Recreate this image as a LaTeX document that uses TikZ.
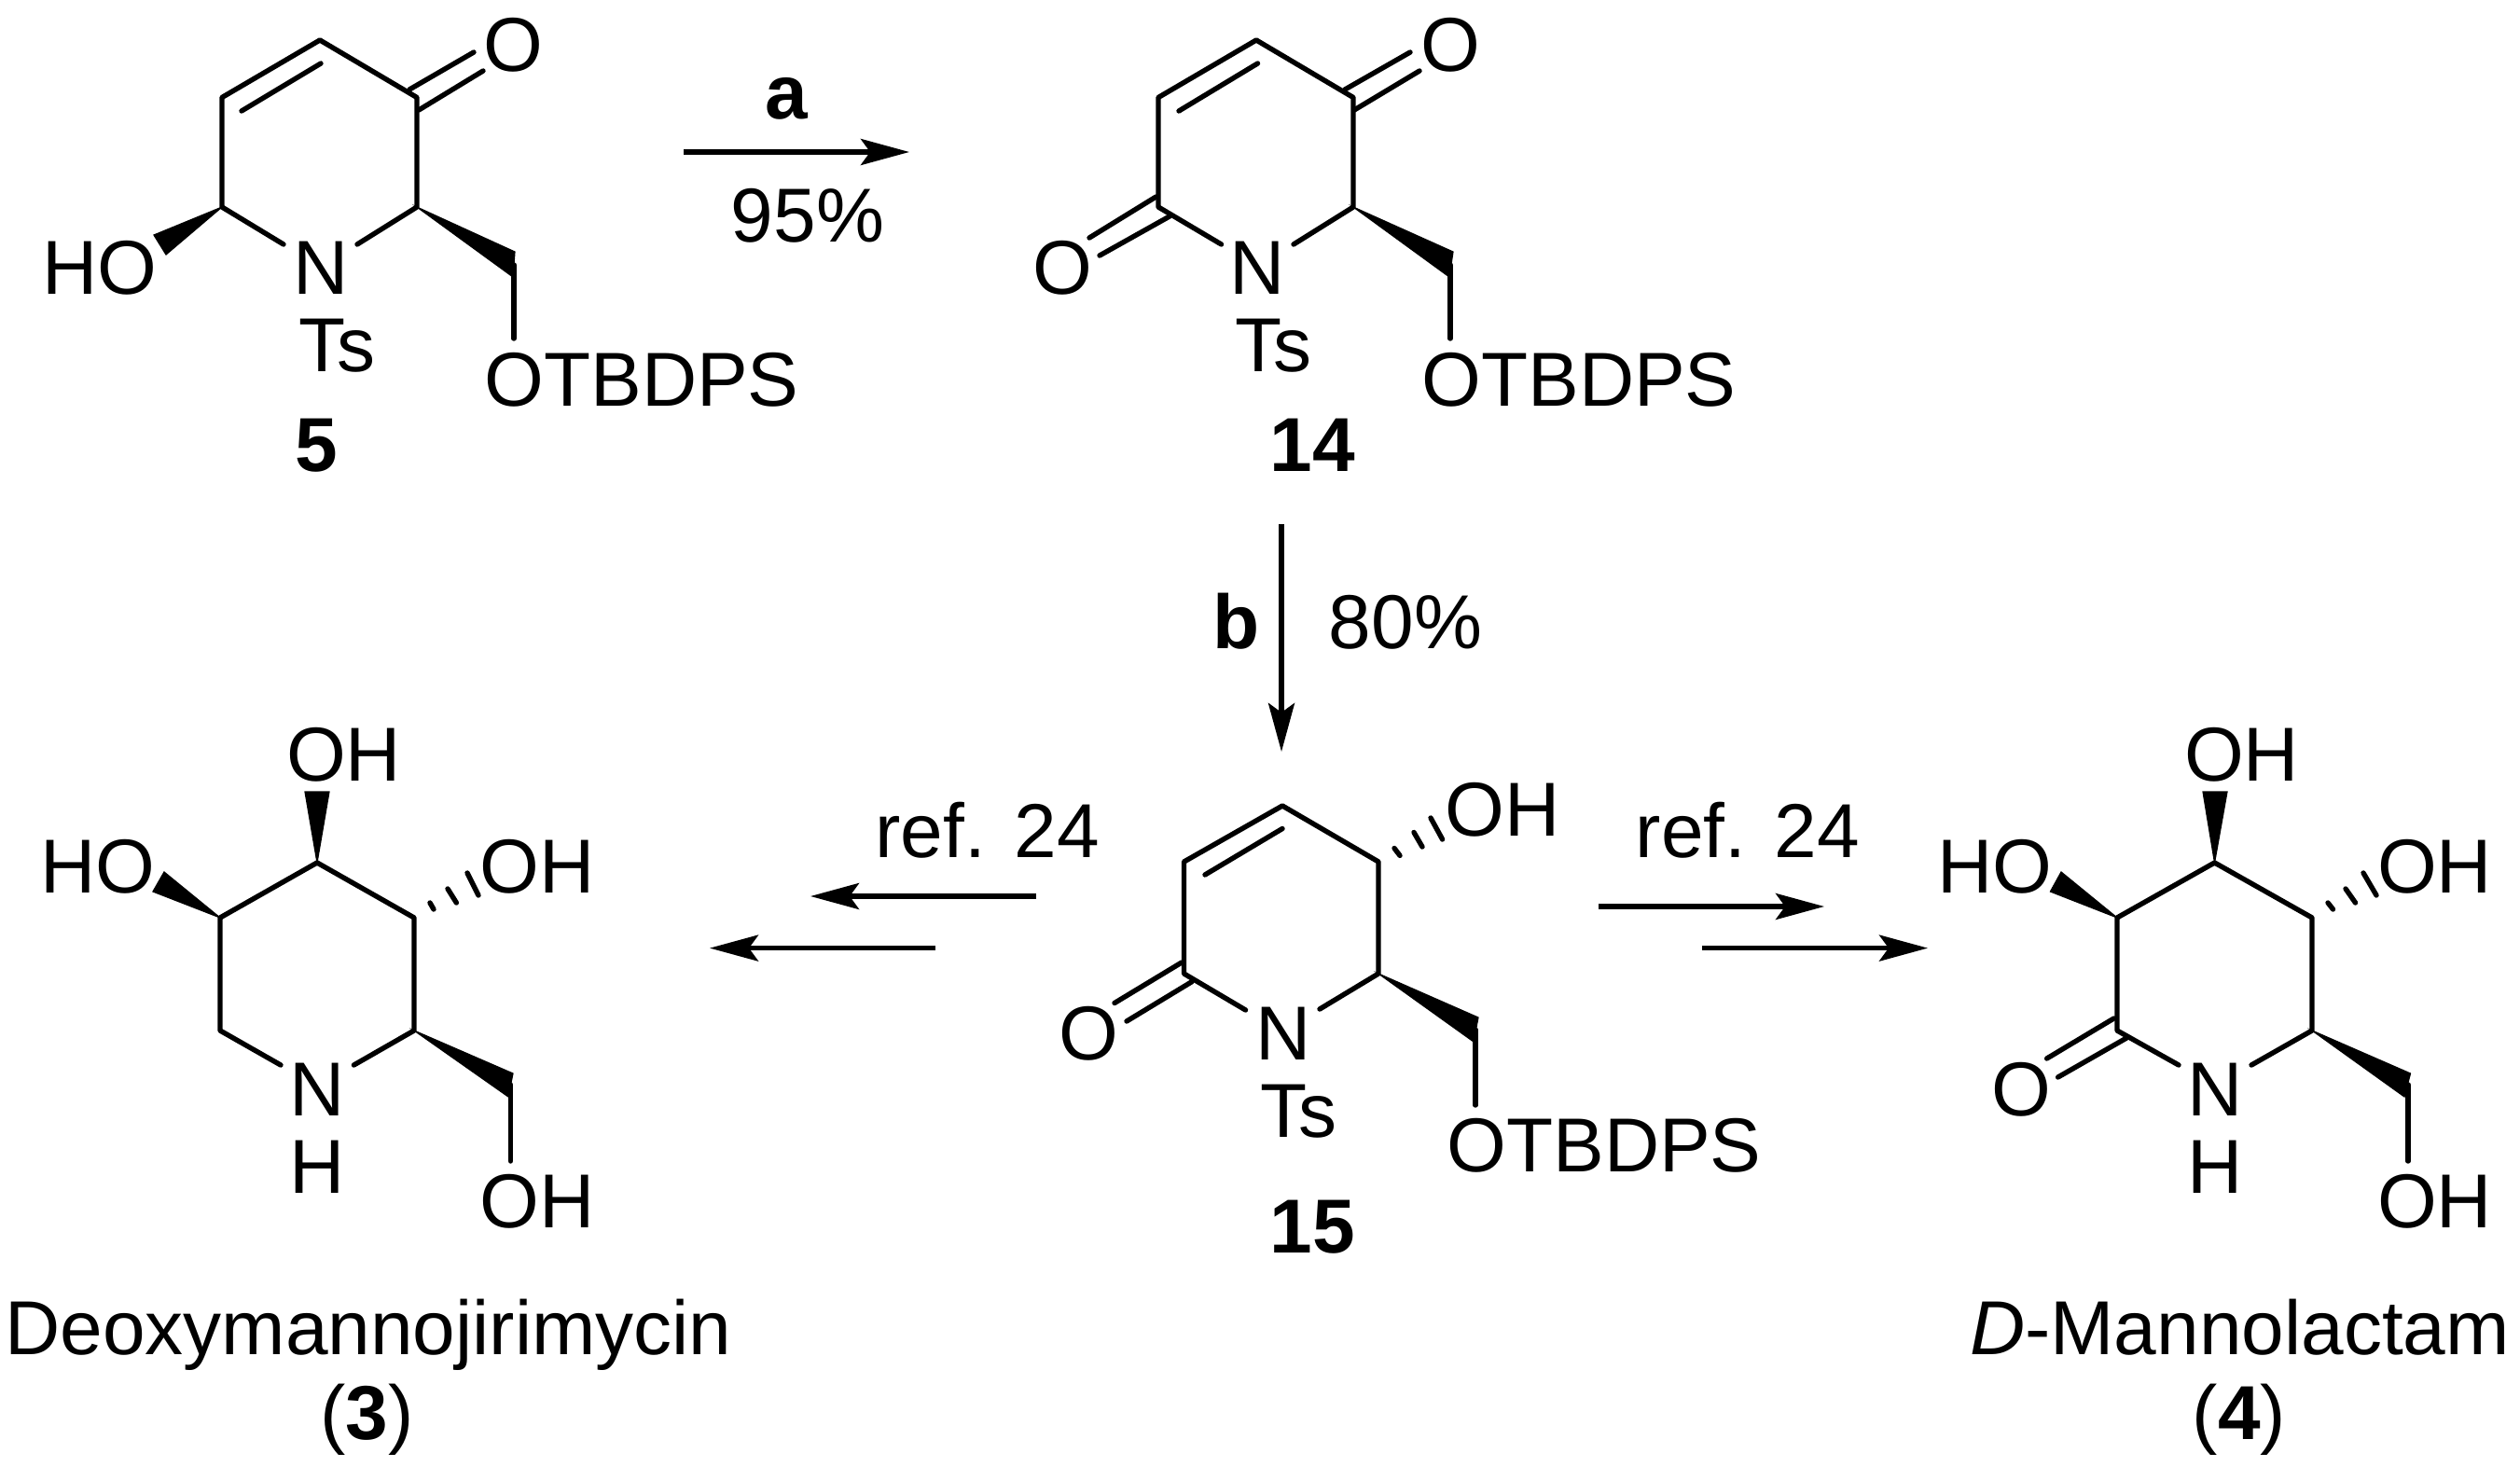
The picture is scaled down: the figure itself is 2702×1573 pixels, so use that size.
\documentclass[tikz,border=0pt]{standalone}
\usepackage{fontspec}
\setmainfont{Liberation Sans}
\usetikzlibrary{arrows.meta}
\tikzset{
  bond/.style={line width=2.7pt,line cap=round,line join=round},
  wedge/.style={fill=black,draw=black,line width=0.6pt,line join=miter},
  rxn/.style={line width=2.6pt,-{Stealth[length=26pt,width=14pt,inset=5pt]}},
  lab/.style={anchor=base,inner sep=0pt,font=\fontsize{41}{45}\selectfont},
  blab/.style={lab,font=\fontsize{41}{45}\selectfont\bfseries},
}
\begin{document}
\begin{tikzpicture}[x=0.5pt,y=-0.5pt]
\useasboundingbox (0,0) rectangle (2702,1573);
% ===== 5 =====
\coordinate (a1) at (343,43); \coordinate (a2) at (238,104.5); \coordinate (a3) at (238,222);
\coordinate (a4) at (447,222); \coordinate (a5) at (447,104.5);
\coordinate (a3n) at (304,262); \coordinate (a4n) at (383,262);
\coordinate (ai1) at (259,119); \coordinate (ai2) at (344,68);
\coordinate (ao1) at (439,96); \coordinate (ao2) at (508,56);
\coordinate (ao3) at (449,118); \coordinate (ao4) at (518,76);
\coordinate (aw1) at (165,252); \coordinate (aw2) at (178,273);
\coordinate (aw3) at (552,270); \coordinate (aw4) at (550,297);
\coordinate (ac) at (551,284); \coordinate (ae) at (551,363);
\draw[bond] (a3n) -- (a3) -- (a2) -- (a1) -- (a5) -- (a4) -- (a4n);
\draw[bond] (ai1) -- (ai2);
\draw[bond] (ao1) -- (ao2);
\draw[bond] (ao3) -- (ao4);
\draw[bond] (ac) -- (ae);
\fill[wedge] (a3) -- (aw1) -- (aw2) -- cycle;
\fill[wedge] (a4) -- (aw3) -- (aw4) -- cycle;
\node[lab] (aO) at (550,77) {O};
\node[lab] (aHO) at (107,315) {HO};
\node[lab] (aN) at (344,315) {N};
\node[lab] (aTs) at (361,398) {Ts};
\node[lab] (aOT) at (688,435) {OTBDPS};
\node[blab] (a5l) at (339,505) {5};
% ===== 14 =====
\coordinate (b1) at (1347,43); \coordinate (b2) at (1242,104.5); \coordinate (b3) at (1242,222);
\coordinate (b4) at (1451,222); \coordinate (b5) at (1451,104.5);
\coordinate (b3n) at (1309.5,262); \coordinate (b4n) at (1387,262);
\coordinate (bi1) at (1264,119); \coordinate (bi2) at (1348.5,68);
\coordinate (bo1) at (1442,96); \coordinate (bo2) at (1512,56);
\coordinate (bo3) at (1452,118); \coordinate (bo4) at (1522,76);
\coordinate (bp1) at (1239.5,211); \coordinate (bp2) at (1168,255);
\coordinate (bp3) at (1254,232); \coordinate (bp4) at (1179,274);
\coordinate (bw3) at (1558,270); \coordinate (bw4) at (1554,297);
\coordinate (bc) at (1555,284); \coordinate (be) at (1555,363);
\draw[bond] (b3n) -- (b3) -- (b2) -- (b1) -- (b5) -- (b4) -- (b4n);
\draw[bond] (bi1) -- (bi2);
\draw[bond] (bo1) -- (bo2);
\draw[bond] (bo3) -- (bo4);
\draw[bond] (bp1) -- (bp2);
\draw[bond] (bp3) -- (bp4);
\draw[bond] (bc) -- (be);
\fill[wedge] (b4) -- (bw3) -- (bw4) -- cycle;
\node[lab] (bO) at (1555,77) {O};
\node[lab] (bO2) at (1139,315) {O};
\node[lab] (bN) at (1348.5,315) {N};
\node[lab] (bTs) at (1365,398) {Ts};
\node[lab] (bOT) at (1693,435) {OTBDPS};
\node[blab] (b14) at (1407,505) {14};
% ===== 15 =====
\coordinate (c1) at (1375,864); \coordinate (c2) at (1269.5,924); \coordinate (c3) at (1269.5,1044);
\coordinate (c4) at (1478,1044); \coordinate (c5) at (1478,924);
\coordinate (c3n) at (1335.5,1083); \coordinate (c4n) at (1415,1082);
\coordinate (ci1) at (1292,938); \coordinate (ci2) at (1375,888.5);
\coordinate (cp1) at (1267,1032); \coordinate (cp2) at (1195,1075.5);
\coordinate (cp3) at (1278,1052.6); \coordinate (cp4) at (1208,1095);
\coordinate (cw3) at (1585,1091); \coordinate (cw4) at (1580,1117);
\coordinate (cc) at (1582,1104); \coordinate (ce) at (1582,1185);
\coordinate (ch1) at (1501,917.4); \coordinate (ch2) at (1495,909.5);
\coordinate (ch3) at (1525,908); \coordinate (ch4) at (1516,892.5);
\coordinate (ch5) at (1546.6,900); \coordinate (ch6) at (1534,877);
\draw[bond] (c3n) -- (c3) -- (c2) -- (c1) -- (c5) -- (c4) -- (c4n);
\draw[bond] (ci1) -- (ci2);
\draw[bond] (cp1) -- (cp2);
\draw[bond] (cp3) -- (cp4);
\draw[bond] (cc) -- (ce);
\draw[bond] (ch1) -- (ch2);
\draw[bond] (ch3) -- (ch4);
\draw[bond] (ch5) -- (ch6);
\fill[wedge] (c4) -- (cw3) -- (cw4) -- cycle;
\node[lab] (cOH) at (1611,896.5) {OH};
\node[lab] (cO) at (1167,1136) {O};
\node[lab] (cN) at (1376,1136) {N};
\node[lab] (cTs) at (1392,1219.5) {Ts};
\node[lab] (cOT) at (1720,1256) {OTBDPS};
\node[blab] (c15) at (1407,1343) {15};
% ===== 3 =====
\coordinate (d1) at (340,925); \coordinate (d2) at (236,984); \coordinate (d3) at (236,1105);
\coordinate (d4) at (444,1105); \coordinate (d5) at (444,984);
\coordinate (d3n) at (301,1142); \coordinate (d4n) at (379.4,1142);
\coordinate (dt1) at (327,849); \coordinate (dt2) at (353,849);
\coordinate (dl1) at (176,935); \coordinate (dl2) at (164,956);
\coordinate (dw3) at (550,1151); \coordinate (dw4) at (545,1176);
\coordinate (dc) at (547.4,1163); \coordinate (de) at (547.4,1245);
\coordinate (dh1) at (461,968); \coordinate (dh2) at (465,975);
\coordinate (dh3) at (480,953); \coordinate (dh4) at (489.4,968);
\coordinate (dh5) at (501,936); \coordinate (dh6) at (513,960);
\draw[bond] (d3n) -- (d3) -- (d2) -- (d1) -- (d5) -- (d4) -- (d4n);
\draw[bond] (dc) -- (de);
\draw[bond] (dh1) -- (dh2);
\draw[bond] (dh3) -- (dh4);
\draw[bond] (dh5) -- (dh6);
\fill[wedge] (d1) -- (dt1) -- (dt2) -- cycle;
\fill[wedge] (d2) -- (dl1) -- (dl2) -- cycle;
\fill[wedge] (d4) -- (dw3) -- (dw4) -- cycle;
\node[lab] (dOHt) at (368.5,837) {OH};
\node[lab] (dHO) at (104.5,957) {HO};
\node[lab] (dOHr) at (576,957) {OH};
\node[lab] (dN) at (340,1196.5) {N};
\node[lab] (dH) at (340,1279) {H};
\node[lab] (dOHb) at (576,1316) {OH};
\node[lab] (dname) at (395,1452) {Deoxymannojirimycin};
\node[lab] (dnum) at (393.5,1543) {(\textbf{3})};
% ===== 4 =====
\coordinate (e1) at (2374.5,925); \coordinate (e2) at (2270,984); \coordinate (e3) at (2270,1105);
\coordinate (e4) at (2479,1105); \coordinate (e5) at (2479,984);
\coordinate (e3n) at (2336,1142); \coordinate (e4n) at (2414,1142);
\coordinate (ep1) at (2266.5,1092); \coordinate (ep2) at (2194.6,1135);
\coordinate (ep3) at (2281,1112.5); \coordinate (ep4) at (2206.6,1155);
\coordinate (et1) at (2362,849); \coordinate (et2) at (2388,849);
\coordinate (el1) at (2210,935); \coordinate (el2) at (2198.4,956);
\coordinate (ew3) at (2584.5,1151); \coordinate (ew4) at (2578,1176);
\coordinate (ec) at (2582,1163); \coordinate (ee) at (2582,1245);
\coordinate (eh1) at (2496,968); \coordinate (eh2) at (2501.5,975);
\coordinate (eh3) at (2515,953); \coordinate (eh4) at (2525.5,968);
\coordinate (eh5) at (2534,936); \coordinate (eh6) at (2548,960);
\draw[bond] (e3n) -- (e3) -- (e2) -- (e1) -- (e5) -- (e4) -- (e4n);
\draw[bond] (ep1) -- (ep2);
\draw[bond] (ep3) -- (ep4);
\draw[bond] (ec) -- (ee);
\draw[bond] (eh1) -- (eh2);
\draw[bond] (eh3) -- (eh4);
\draw[bond] (eh5) -- (eh6);
\fill[wedge] (e1) -- (et1) -- (et2) -- cycle;
\fill[wedge] (e2) -- (el1) -- (el2) -- cycle;
\fill[wedge] (e4) -- (ew3) -- (ew4) -- cycle;
\node[lab] (eOHt) at (2403.5,837) {OH};
\node[lab] (eHO) at (2138.5,957) {HO};
\node[lab] (eOHr) at (2610.5,957) {OH};
\node[lab] (eO) at (2167,1196.5) {O};
\node[lab] (eN) at (2375.4,1196.5) {N};
\node[lab] (eH) at (2375.4,1279) {H};
\node[lab] (eOHb) at (2610.5,1316) {OH};
\node[lab] (ename) at (2401.5,1452) {\textit{D}-Mannolactam};
\node[lab] (enum) at (2401,1543) {(\textbf{4})};
% ===== arrows =====
\coordinate (ra1) at (733,163); \coordinate (ra2) at (975,163);
\coordinate (rb1) at (1374,562); \coordinate (rb2) at (1374,806);
\coordinate (rl1) at (1111,961); \coordinate (rl2) at (869,961);
\coordinate (rm1) at (1003,1016.6); \coordinate (rm2) at (761,1016.6);
\coordinate (rr1) at (1714,972); \coordinate (rr2) at (1956,972);
\coordinate (rs1) at (1825,1016.6); \coordinate (rs2) at (2067,1016.6);
\draw[rxn] (ra1) -- (ra2);
\draw[rxn] (rb1) -- (rb2);
\draw[rxn] (rl1) -- (rl2);
\draw[rxn] (rm1) -- (rm2);
\draw[rxn] (rr1) -- (rr2);
\draw[rxn] (rs1) -- (rs2);
\node[blab] (la) at (843,128) {a};
\node[lab] (l95) at (866,260) {95\%};
\node[blab] (lb) at (1326,695) {b};
\node[lab] (l80) at (1507,695) {80\%};
\node[lab] (lr1) at (1058.6,919) {ref. 24};
\node[lab] (lr2) at (1874,919) {ref. 24};
\end{tikzpicture}
\end{document}
